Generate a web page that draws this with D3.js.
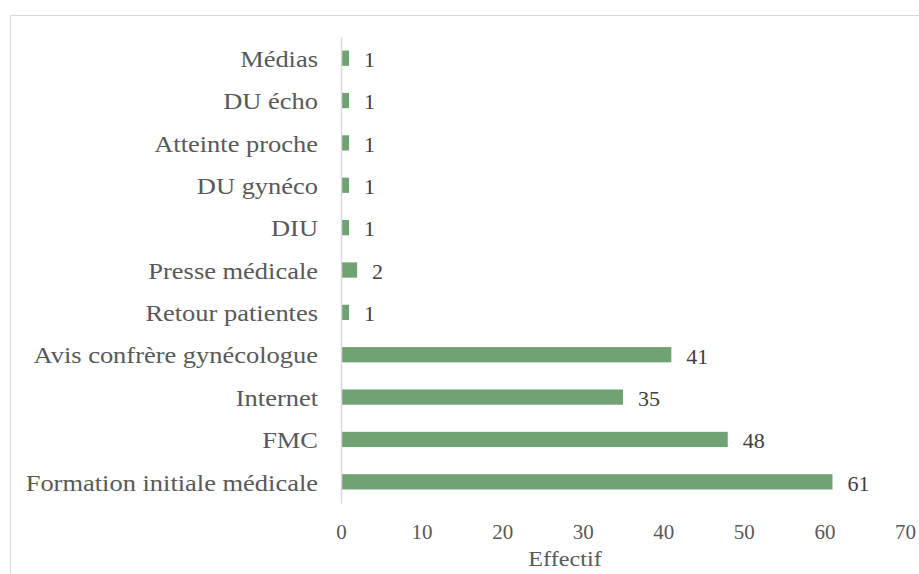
<!DOCTYPE html>
<html>
<head>
<meta charset="utf-8">
<script src="https://cdn.jsdelivr.net/npm/d3@7"></script>
<style>
body { margin: 0; background: #fff; }
svg text { font-family: "Liberation Serif", "Times New Roman", Times, serif !important; }
</style>
</head>
<body>
<svg id="graph"></svg>
<script>
var categories = ["Médias", "DU écho", "Atteinte proche", "DU gynéco ", "DIU", "Presse médicale",
                  "Retour patientes", "Avis confrère gynécologue", "Internet", "FMC",
                  "Formation initiale médicale"]
var values = [1, 1, 1, 1, 1, 2, 1, 41, 35, 48, 61]
var xTicks = [0, 10, 20, 30, 40, 50, 60, 70]
var xTitle = "Effectif"

var svgw = 919
var svgh = 574
var plot = {left: 341, right: 905, top: 37, bottom: 503}

var svg = d3.select("#graph")
    .attr("width", svgw)
    .attr("height", svgh)

// chart frame
svg.append("rect")
    .attr("x", 10.5)
    .attr("y", 15.5)
    .attr("width", svgw + 10)
    .attr("height", svgh + 10)
    .attr("fill", "none")
    .attr("stroke", "#d9d9d9")
    .attr("stroke-width", 1)

var xscale = d3.scaleLinear()
    .domain([0, 70])
    .range([plot.left, plot.right])

var yscale = d3.scaleBand()
    .domain(categories)
    .range([plot.top, plot.bottom])
    .paddingInner(0.64)
    .paddingOuter(0.32)

// bars
svg.append("g")
    .selectAll("rect")
    .data(values)
    .enter()
    .append("rect")
    .attr("x", xscale(0) + 1)
    .attr("y", function(d, i) { return yscale(categories[i]) })
    .attr("width", function(d) { return xscale(d) - xscale(0) - 1 })
    .attr("height", yscale.bandwidth())
    .attr("fill", "#70a273")

// value labels
svg.append("g")
    .selectAll("text")
    .data(values)
    .enter()
    .append("text")
    .text(function(d) { return d })
    .attr("x", function(d) { return xscale(d) + 15 })
    .attr("y", function(d, i) { return yscale(categories[i]) + yscale.bandwidth() / 2 })
    .attr("dy", "0.4em")
    .attr("fill", "#404040")
    .style("font-size", "22px")

// y axis
var yAxis = d3.axisLeft(yscale).tickSize(0).tickPadding(23)
var gy = svg.append("g")
    .attr("transform", "translate(" + plot.left + ",0)")
    .call(yAxis)
gy.select(".domain").attr("stroke", "#d9d9d9").attr("stroke-width", 1.5)
gy.selectAll("text")
    .attr("data-stretch", 1.15)
    .attr("dy", "0.38em")
    .attr("fill", "#595959")
    .style("font-size", "23px")

// x axis
var xAxis = d3.axisBottom(xscale).tickValues(xTicks).tickSize(0)
var gx = svg.append("g")
    .attr("transform", "translate(0," + plot.bottom + ")")
    .call(xAxis)
gx.select(".domain").remove()
gx.selectAll("text")
    .attr("y", 36)
    .attr("dy", 0)
    .attr("fill", "#595959")
    .style("font-size", "21px")
gx.attr("font-family", null)
gy.attr("font-family", null)

// axis title
svg.append("text")
    .attr("data-stretch", 1.1)
    .text(xTitle)
    .attr("text-anchor", "middle")
    .attr("x", 565)
    .attr("y", 566)
    .attr("fill", "#595959")
    .style("font-size", "22px")

// letters in the picture are a bit wider than the font, widen them
svg.selectAll("text[data-stretch]").each(function() {
    var len = this.getComputedTextLength()
    var k = +this.getAttribute("data-stretch")
    d3.select(this)
        .attr("textLength", len * k)
        .attr("lengthAdjust", "spacingAndGlyphs")
})
</script>
</body>
</html>
